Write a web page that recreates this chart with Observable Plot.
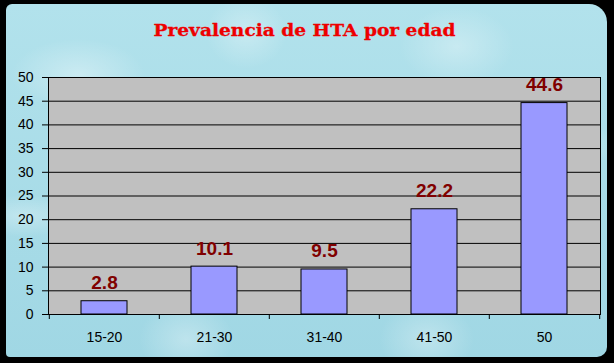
<!DOCTYPE html>
<html><head><meta charset="utf-8">
<script src="https://cdn.jsdelivr.net/npm/d3@7"></script>
<script src="https://cdn.jsdelivr.net/npm/@observablehq/plot@0.6"></script>
<style>
html,body{margin:0;padding:0;background:#000;}
#wrap{position:relative;width:614px;height:363px;overflow:hidden;background:#000;}
#bg{position:absolute;left:6px;top:4px;width:601px;height:353px;border-radius:6px 18px 10px 4px;
background:
 radial-gradient(ellipse at 12% 20%, rgba(255,255,255,0.35) 0, rgba(255,255,255,0) 9%),
 radial-gradient(ellipse at 40% 8%, rgba(255,255,255,0.3) 0, rgba(255,255,255,0) 8%),
 radial-gradient(ellipse at 75% 12%, rgba(255,255,255,0.3) 0, rgba(255,255,255,0) 9%),
 radial-gradient(ellipse at 92% 40%, rgba(255,255,255,0.3) 0, rgba(255,255,255,0) 8%),
 radial-gradient(ellipse at 3% 60%, rgba(255,255,255,0.3) 0, rgba(255,255,255,0) 7%),
 radial-gradient(ellipse at 30% 95%, rgba(255,255,255,0.3) 0, rgba(255,255,255,0) 8%),
 radial-gradient(ellipse at 70% 95%, rgba(255,255,255,0.3) 0, rgba(255,255,255,0) 8%),
 linear-gradient(180deg,#b2e2ec,#a0d7e4);}
#chart{position:absolute;left:0;top:0;}
</style></head><body>
<div id="wrap"><div id="bg"></div><div id="chart"></div></div>
<script>
const title = "Prevalencia de HTA por edad";
const categories = ["15-20", "21-30", "31-40", "41-50", "50"];
const values = [2.8, 10.1, 9.5, 22.2, 44.6];
const yTicks = [0, 5, 10, 15, 20, 25, 30, 35, 40, 45, 50];

const data = categories.map((c, i) => ({edad: c, valor: values[i]}));
const W = 614, H = 363, mL = 48, mR = 14, mT = 77, mB = 49;
const bw = (W - mL - mR) / categories.length;

const plot = Plot.plot({
  width: W, height: H,
  marginLeft: mL, marginRight: mR, marginTop: mT, marginBottom: mB,
  style: {background: "transparent", fontFamily: "'Liberation Sans', Arial, sans-serif", fontSize: "14px", color: "#000", overflow: "visible"},
  x: {domain: categories, padding: 0, label: null},
  y: {domain: [0, 50], ticks: yTicks, label: null},
  marks: [
    Plot.frame({fill: "#c0c0c0"}),
    Plot.gridY(yTicks, {stroke: "#000", strokeOpacity: 1}),
    Plot.barY(data, {x: "edad", y: "valor", fill: "#9999ff", stroke: "#000", strokeWidth: 1, insetLeft: 32, insetRight: 32}),
    Plot.frame({stroke: "#000"}),
    Plot.axisY(yTicks, {tickSize: 6, tickPadding: 9, stroke: "#000", fill: "#000", fontSize: 14, label: null}),
    Plot.axisX({tickSize: 0, tickPadding: 18, fill: "#000", fontSize: 14, label: null}),
    Plot.axisX(categories, {tickSize: 5, text: null, dx: -bw / 2, stroke: "#000", label: null}),
    Plot.axisX([categories[categories.length - 1]], {tickSize: 5, text: null, dx: bw / 2, stroke: "#000", label: null}),
    Plot.text(data, {x: "edad", y: "valor", text: d => d.valor.toFixed(1), lineAnchor: "bottom", dy: -12, fill: "#800000", fontSize: 19, fontWeight: "bold", fontFamily: "'Liberation Sans', Arial, sans-serif"}),
    Plot.text([title], {frameAnchor: "top", text: d => d, dy: -42, dx: -20, lineAnchor: "bottom", fill: "#ee0000", stroke: "#ee0000", strokeWidth: 0.3, fontFamily: "'DejaVu Serif', serif", fontWeight: "bold", fontSize: 16.5, className: "title"})
  ]
});
d3.select(plot).selectAll("g.title text").attr("textLength", 302).attr("lengthAdjust", "spacingAndGlyphs");
document.getElementById("chart").appendChild(plot);
</script>
</body></html>
